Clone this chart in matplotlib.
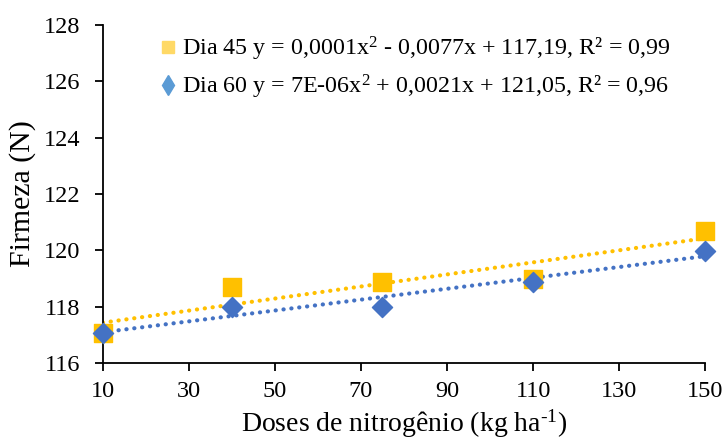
import numpy as np
import matplotlib
matplotlib.use("Agg")
import matplotlib.pyplot as plt
from matplotlib.lines import Line2D

plt.rcParams["font.family"] = ["Liberation Serif", "DejaVu Serif"]
plt.rcParams["mathtext.fontset"] = "custom"
plt.rcParams["mathtext.rm"] = "Liberation Serif"
plt.rcParams["mathtext.it"] = "Liberation Serif:italic"

doses = [10, 40, 75, 110, 150]
dia45 = [117.08, 118.69, 118.89, 118.98, 120.69]
dia60 = [117.08, 117.98, 117.98, 118.89, 119.99]

label45 = r"Dia 45 y = 0,0001x$^{2}$ - 0,0077x + 117,19, R² = 0,99"
label60 = r"Dia 60 y = 7E-06x$^{2}$ + 0,0021x + 121,05, R² = 0,96"

xticks = [10, 30, 50, 70, 90, 110, 130, 150]
yticks = [116, 118, 120, 122, 124, 126, 128]

c45 = "#FFC000"
c60 = "#4472C4"

fig = plt.figure(figsize=(7.24, 4.41), dpi=100)
ax = fig.add_axes([0.142, 0.177, 0.832, 0.766])

# linear trend lines (round dots)
xs = np.array([doses[0], doses[-1]])
for ys, c in [(dia45, c45), (dia60, c60)]:
    p = np.polyfit(doses, ys, 1)
    ax.plot(xs, np.polyval(p, xs), color=c, lw=3, ls=(0, (0.05, 1.85)),
            dash_capstyle="round", zorder=2)

ax.scatter(doses, dia45, marker="s", s=150, color=c45, zorder=3, clip_on=False)
ax.scatter(doses, dia60, marker="D", s=105, color=c60, zorder=4, clip_on=False)

ax.set_xlim(10, 150)
ax.set_ylim(116, 128)
ax.set_xticks(xticks)
ax.set_yticks(yticks)
ax.tick_params(labelsize=17.5, length=6, width=1.3, direction="out")
ax.tick_params(axis="x", pad=7)
ax.tick_params(axis="y", pad=10)
for s in ["top", "right"]:
    ax.spines[s].set_visible(False)
for s in ["left", "bottom"]:
    ax.spines[s].set_linewidth(1.3)

ax.set_xlabel(r"Doses de nitrogênio (kg ha$^{\text{-}1}$)", fontsize=20, labelpad=4)
ax.set_ylabel("Firmeza (N)", fontsize=21.5, labelpad=6)

handles = [
    Line2D([], [], ls="none", marker="s", ms=8, color="#FFD966"),
    Line2D([], [], ls="none", marker="d", ms=10, color="#5B9BD5"),
]
ax.legend(handles, [label45, label60], loc="upper left", bbox_to_anchor=(0.08, 1.0),
          frameon=False, fontsize=17.3, handlelength=0.6, handletextpad=0.3,
          labelspacing=0.4, borderaxespad=0.0)

fig.savefig("out.png", dpi=100)
